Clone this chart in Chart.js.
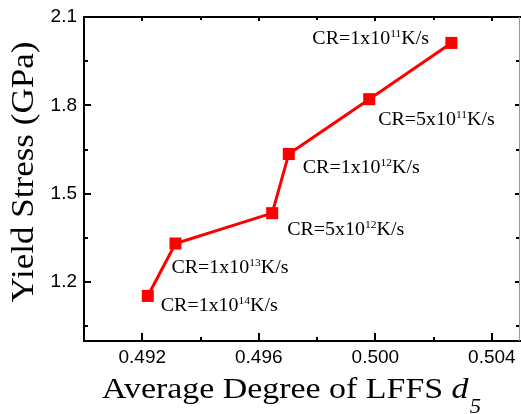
<!DOCTYPE html>
<html>
<head>
<meta charset="utf-8">
<script src="https://cdn.jsdelivr.net/npm/chart.js@4.4.0/dist/chart.umd.min.js"></script>
<style>
  html, body { margin: 0; padding: 0; background: #fff; }
  canvas { display: block; }
</style>
</head>
<body>
<canvas id="yieldChart" width="521" height="414"></canvas>
<script>
// average degree of LFFS (d5) vs yield stress, one point per cooling rate
const degreeD5 = [0.49219, 0.49314, 0.49646, 0.49703, 0.49979, 0.50261];
const yieldStress = [1.153, 1.331, 1.434, 1.635, 1.821, 2.012];
const crMantissa = ['1', '1', '5', '1', '5', '1'];
const crExponent = ['14', '13', '12', '12', '11', '11'];

const xTicks = [0.492, 0.494, 0.496, 0.498, 0.500, 0.502, 0.504];
const xTickLabels = ['0.492', '', '0.496', '', '0.500', '', '0.504'];
const yTicks = [1.05, 1.2, 1.35, 1.5, 1.65, 1.8, 1.95, 2.1];
const yTickLabels = ['', '1.2', '', '1.5', '', '1.8', '', '2.1'];

const SERIF = '"Liberation Serif", "Times New Roman", serif';

// label offset from point centre to text start (left, baseline)
const labelOffsets = [[13, 15], [-4, 29], [15, 22], [14, 19], [9, 26], [-139, 1]];

function drawParts(ctx, parts, x, y, sx) {
    ctx.save();
    ctx.translate(x, y);
    ctx.scale(sx, 1);
    let cx = 0;
    parts.forEach(p => {
        ctx.font = p.font;
        cx += p.dx || 0;
        ctx.fillText(p.text, cx, p.dy || 0);
        cx += ctx.measureText(p.text).width;
    });
    ctx.restore();
}

const framePlugin = {
    id: 'frame',
    beforeDatasetsDraw(chart) {
        const ctx = chart.ctx;
        const { left, right, top, bottom } = chart.chartArea;
        const xs = chart.scales.x, ys = chart.scales.y;
        ctx.save();
        ctx.strokeStyle = '#000';
        ctx.lineWidth = 2;
        ctx.beginPath();
        ctx.moveTo(left, top); ctx.lineTo(right, top);
        ctx.moveTo(left, top - 1); ctx.lineTo(left, bottom + 1);
        ctx.moveTo(left - 1, bottom); ctx.lineTo(right, bottom);
        ctx.stroke();
        ctx.strokeStyle = '#999';
        ctx.lineWidth = 1;
        ctx.beginPath();
        ctx.moveTo(right - 1.5, top); ctx.lineTo(right - 1.5, bottom);
        ctx.stroke();

        ctx.strokeStyle = '#000';
        ctx.lineWidth = 2;
        ctx.beginPath();
        xTicks.forEach((v, i) => {
            const px = Math.round(xs.getPixelForValue(v));
            const major = xTickLabels[i] !== '';
            ctx.moveTo(px, bottom); ctx.lineTo(px, bottom - (major ? 8 : 4));
            ctx.moveTo(px, top); ctx.lineTo(px, top + (major ? 4 : 3));
        });
        yTicks.forEach((v, i) => {
            const py = Math.round(ys.getPixelForValue(v));
            const major = yTickLabels[i] !== '';
            ctx.moveTo(left, py); ctx.lineTo(left + (major ? 7 : 4), py);
            ctx.moveTo(right - 2, py); ctx.lineTo(right - 2 - (major ? 4 : 3), py);
        });
        ctx.stroke();
        ctx.restore();
    },
    afterDatasetsDraw(chart) {
        const ctx = chart.ctx;
        const pts = chart.getDatasetMeta(0).data;
        ctx.save();
        ctx.fillStyle = '#000';
        ctx.textAlign = 'left';
        ctx.textBaseline = 'alphabetic';
        pts.forEach((pt, i) => {
            const [ox, oy] = labelOffsets[i];
            drawParts(ctx, [
                { text: 'CR=' + crMantissa[i] + 'x10', font: '19px ' + SERIF },
                { text: crExponent[i], font: '11px ' + SERIF, dy: -7 },
                { text: 'K/s', font: '19px ' + SERIF }
            ], pt.x + ox, pt.y + oy, 1.05);
        });

        // x axis title
        drawParts(ctx, [
            { text: 'Average Degree of LFFS ', font: '30px ' + SERIF },
            { text: 'd', font: 'italic 30px ' + SERIF },
            { text: '5', font: 'italic 20px ' + SERIF, dy: 15, dx: 1 }
        ], 102, 398, 1.13);

        // y axis title
        ctx.translate(33, 172);
        ctx.rotate(-Math.PI / 2);
        ctx.scale(1.13, 1);
        ctx.textAlign = 'center';
        ctx.font = '31px ' + SERIF;
        ctx.fillText('Yield Stress (GPa)', 0, 0);
        ctx.restore();
    }
};

const ctx = document.getElementById('yieldChart').getContext('2d');

new Chart(ctx, {
    type: 'line',
    data: {
        datasets: [{
            data: degreeD5.map((d, i) => ({ x: d, y: yieldStress[i] })),
            borderColor: '#ff0000',
            backgroundColor: '#ff0000',
            borderWidth: 3,
            pointStyle: 'rect',
            pointRadius: 8.5,
            pointBorderWidth: 0,
            tension: 0
        }]
    },
    options: {
        responsive: false,
        animation: false,
        devicePixelRatio: 1,
        layout: { autoPadding: false, padding: { top: 17, right: 0, left: 0, bottom: 0 } },
        plugins: { legend: { display: false }, tooltip: { enabled: false } },
        scales: {
            x: {
                type: 'linear',
                min: 0.490,
                max: 0.505,
                afterBuildTicks: s => { s.ticks = xTicks.map(v => ({ value: v })); },
                afterFit: s => { s.height = 73; s.paddingLeft = 0; s.paddingRight = 0; },
                grid: { display: false, drawTicks: false },
                border: { display: false },
                ticks: {
                    autoSkip: false,
                    maxRotation: 0,
                    padding: 5,
                    color: '#000',
                    font: { family: '"Liberation Sans", Arial', size: 19 },
                    callback: (v, i) => xTickLabels[i]
                }
            },
            y: {
                min: 1.0,
                max: 2.1,
                afterBuildTicks: s => { s.ticks = yTicks.map(v => ({ value: v })); },
                afterFit: s => { s.width = 84; s.paddingTop = 0; s.paddingBottom = 0; },
                grid: { display: false, drawTicks: false },
                border: { display: false },
                ticks: {
                    autoSkip: false,
                    padding: 7,
                    color: '#000',
                    font: { family: '"Liberation Sans", Arial', size: 19 },
                    callback: (v, i) => yTickLabels[i]
                }
            }
        }
    },
    plugins: [framePlugin]
});
</script>
</body>
</html>
